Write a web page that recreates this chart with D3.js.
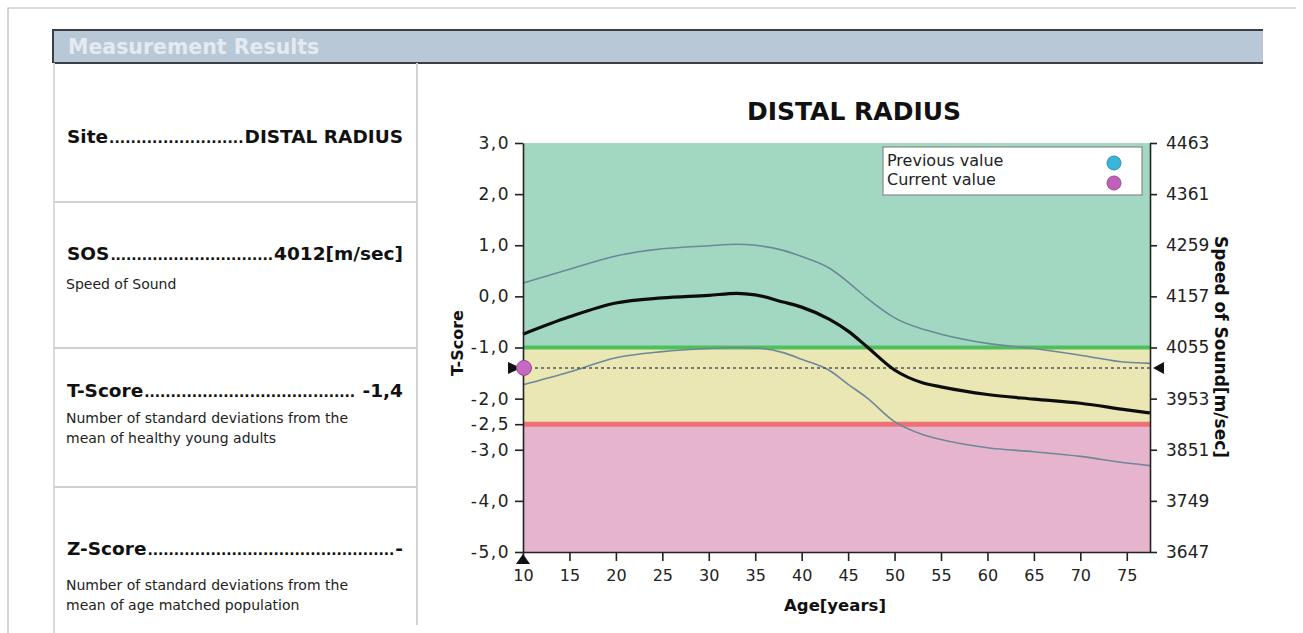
<!DOCTYPE html>
<html>
<head>
<meta charset="utf-8">
<script src="https://cdn.jsdelivr.net/npm/d3@7/dist/d3.min.js"></script>
<style>
  html, body { margin: 0; padding: 0; background: #ffffff; }
  svg { display: block; font-family: "DejaVu Sans", sans-serif; }
</style>
</head>
<body>
<svg id="chart" width="1303" height="633"></svg>
<script>
// ---------------- DATA ----------------
const ages   = [10, 15, 20, 25, 30, 33, 35, 38, 40, 43, 45, 47, 50, 53, 55, 60, 65, 70, 75, 77.5];
const meanT  = [-0.74, -0.40, -0.13, -0.03, 0.02, 0.06, 0.03, -0.11, -0.21, -0.45, -0.68, -0.98, -1.44, -1.69, -1.77, -1.92, -2.01, -2.09, -2.22, -2.28];
const upperT = [0.26, 0.53, 0.79, 0.93, 0.99, 1.02, 1.00, 0.90, 0.78, 0.55, 0.28, -0.03, -0.42, -0.64, -0.74, -0.92, -1.02, -1.15, -1.29, -1.31];
const lowerT = [-1.73, -1.48, -1.20, -1.08, -1.02, -1.00, -1.01, -1.10, -1.23, -1.45, -1.72, -1.98, -2.45, -2.70, -2.80, -2.96, -3.04, -3.13, -3.26, -3.31];

const tDomain = [-5, 3];
const ageDomain = [10, 77.5];
const sosDomain = [3647, 4463];

const leftTicks = [3, 2, 1, 0, -1, -2, -2.5, -3, -4, -5];
const leftTickLabels = ["3,0", "2,0", "1,0", "0,0", "-1,0", "-2,0", "-2,5", "-3,0", "-4,0", "-5,0"];
const sosTicks = [4463, 4361, 4259, 4157, 4055, 3953, 3851, 3749, 3647];
const ageTicks = [10, 15, 20, 25, 30, 35, 40, 45, 50, 55, 60, 65, 70, 75];

const zoneBounds = [3, -1, -2.5, -5];        // green / yellow / pink bands
const thresholdLines = [-1, -2.5];

const currentAge = 10;
const currentT = -1.4;

const legendLabels = ["Previous value", "Current value"];

const panelRows = [
  { label: "Site", value: "DISTAL RADIUS", notes: [] },
  { label: "SOS", value: "4012[m/sec]", notes: ["Speed of Sound"] },
  { label: "T-Score", value: " -1,4", notes: ["Number of standard deviations from the", "mean of healthy young adults"] },
  { label: "Z-Score", value: "-", notes: ["Number of standard deviations from the", "mean of age matched population"] }
];

// ---------------- LAYOUT ----------------
const svg = d3.select("#chart");
const P = { left: 523, right: 1150, top: 143, bottom: 552 };

const x = d3.scaleLinear().domain(ageDomain).range([P.left, P.right]);
const y = d3.scaleLinear().domain(tDomain).range([P.bottom, P.top]);
const ySos = d3.scaleLinear().domain(sosDomain).range([P.bottom, P.top]);

// outer frame
svg.append("path").attr("d", "M8,633 L8,8 L1296,8").attr("fill", "none").attr("stroke", "#b8b8b8").attr("stroke-width", 1.2);

// header bar
svg.append("rect").attr("x", 53).attr("y", 29).attr("width", 1210).attr("height", 34)
  .attr("fill", "#b9c8d7");
svg.append("path").attr("d", "M53,63 L53,30 L1263,30 M53,63 L1263,63")
  .attr("fill", "none").attr("stroke", "#3a3f45").attr("stroke-width", 2);
svg.append("text").attr("x", 68).attr("y", 54).text("Measurement Results")
  .attr("font-weight", "bold").attr("font-size", 20.5).attr("fill", "#e4eaf1");

// left panel borders
svg.append("line").attr("x1", 54).attr("x2", 54).attr("y1", 63).attr("y2", 633).attr("stroke", "#dadada").attr("stroke-width", 2);
svg.append("line").attr("x1", 417).attr("x2", 417).attr("y1", 63).attr("y2", 625).attr("stroke", "#d2d2d2").attr("stroke-width", 2);
[202, 348, 487].forEach(yy => {
  svg.append("line").attr("x1", 54).attr("x2", 417).attr("y1", yy).attr("y2", yy).attr("stroke", "#d0d0d0").attr("stroke-width", 2);
});

// panel rows
const rowBaselines = [143, 260, 397, 555];
const noteBaselines = [[], [289], [423, 443], [590, 610]];
panelRows.forEach((r, i) => {
  const by = rowBaselines[i];
  const lab = svg.append("text").attr("x", 67).attr("y", by).text(r.label)
    .attr("font-weight", "bold").attr("font-size", 18.5).attr("fill", "#111");
  const val = svg.append("text").attr("x", 403).attr("y", by).text(r.value)
    .attr("text-anchor", "end").attr("font-weight", "bold").attr("font-size", 18.5).attr("fill", "#111")
    .attr("xml:space", "preserve").style("white-space", "pre");
  const lw = lab.node().getComputedTextLength();
  const vw = val.node().getComputedTextLength();
  const x0 = 67 + lw + 1, x1 = 403 - vw - 1;
  const gap = x1 - x0;
  const n = Math.max(1, Math.floor(gap / 5.2));
  svg.append("text").attr("x", x0).attr("y", by).text(".".repeat(n))
    .attr("font-weight", "bold").attr("font-size", 14).attr("fill", "#111")
    .attr("textLength", gap).attr("lengthAdjust", "spacing");
  r.notes.forEach((t, j) => {
    svg.append("text").attr("x", 66).attr("y", noteBaselines[i][j]).text(t)
      .attr("font-size", 14).attr("fill", "#222");
  });
});

// ---------------- CHART ----------------
svg.append("text").attr("x", 854).attr("y", 120).text("DISTAL RADIUS")
  .attr("text-anchor", "middle").attr("font-weight", "bold").attr("font-size", 25).attr("fill", "#111");

const zoneColors = ["#a2d8c2", "#ebe7b5", "#e6b5cd"];
for (let i = 0; i < zoneBounds.length - 1; i++) {
  svg.append("rect")
    .attr("x", x(ageDomain[0])).attr("width", x(ageDomain[1]) - x(ageDomain[0]))
    .attr("y", y(zoneBounds[i])).attr("height", y(zoneBounds[i + 1]) - y(zoneBounds[i]))
    .attr("fill", zoneColors[i]);
}
const thrColors = ["#4fbf5c", "#f07078"];
const thrWidths = [4, 5];
thresholdLines.forEach((t, i) => {
  svg.append("line").attr("x1", x(ageDomain[0])).attr("x2", x(ageDomain[1]))
    .attr("y1", y(t)).attr("y2", y(t)).attr("stroke", thrColors[i]).attr("stroke-width", thrWidths[i]);
});

const line = (vals) => d3.line().x((d, i) => x(ages[i])).y(d => y(d)).curve(d3.curveMonotoneX)(vals);
svg.append("path").attr("d", line(upperT)).attr("fill", "none").attr("stroke", "#6d8898").attr("stroke-width", 1.6);
svg.append("path").attr("d", line(lowerT)).attr("fill", "none").attr("stroke", "#6d8898").attr("stroke-width", 1.6);

// current value dashed line
svg.append("line").attr("x1", x(ageDomain[0])).attr("x2", x(ageDomain[1]))
  .attr("y1", y(currentT)).attr("y2", y(currentT))
  .attr("stroke", "#555").attr("stroke-width", 1.4).attr("stroke-dasharray", "3,3");

svg.append("path").attr("d", line(meanT)).attr("fill", "none").attr("stroke", "#0d0d0d").attr("stroke-width", 3.2);

// axes
const axL = svg.append("g").attr("transform", `translate(${P.left},0)`)
  .call(d3.axisLeft(y).tickValues(leftTicks).tickFormat((d, i) => leftTickLabels[i]).tickSize(8).tickPadding(5).tickSizeOuter(0));
axL.selectAll("text").attr("font-size", 17).attr("letter-spacing", 1.5).attr("fill", "#222").attr("font-family", "DejaVu Sans");

const axR = svg.append("g").attr("transform", `translate(${P.right},0)`)
  .call(d3.axisRight(ySos).tickValues(sosTicks).tickFormat(d3.format("d")).tickSize(7).tickPadding(9).tickSizeOuter(0));
axR.selectAll("text").attr("font-size", 17).attr("fill", "#222").attr("font-family", "DejaVu Sans");

const axB = svg.append("g").attr("transform", `translate(0,${P.bottom})`)
  .call(d3.axisBottom(x).tickValues(ageTicks).tickFormat(d3.format("d")).tickSize(9).tickPadding(9).tickSizeOuter(0));
axB.selectAll("text").attr("font-size", 16).attr("fill", "#222").attr("font-family", "DejaVu Sans");

[axL, axR, axB].forEach(a => {
  a.selectAll("path.domain").attr("stroke", "#222").attr("stroke-width", 1.6);
  a.selectAll(".tick line").attr("stroke", "#222").attr("stroke-width", 1.6);
});

// axis titles
svg.append("text").attr("transform", `translate(463,${343}) rotate(-90)`).text("T-Score")
  .attr("text-anchor", "middle").attr("font-weight", "bold").attr("font-size", 16).attr("fill", "#111");
svg.append("text").attr("transform", `translate(1215,${347}) rotate(90)`).text("Speed of Sound[m/sec]")
  .attr("text-anchor", "middle").attr("font-weight", "bold").attr("font-size", 17).attr("fill", "#111");
svg.append("text").attr("x", 835).attr("y", 611).text("Age[years]")
  .attr("text-anchor", "middle").attr("font-weight", "bold").attr("font-size", 16.5).attr("fill", "#111");

// markers
const cy = y(currentT);
const cx = x(currentAge);
svg.append("path").attr("d", `M${cx - 15},${cy - 6} L${cx - 2},${cy} L${cx - 15},${cy + 6} Z`).attr("fill", "#111");
svg.append("circle").attr("cx", cx + 1).attr("cy", cy).attr("r", 7.5).attr("fill", "#c46ac0").attr("stroke", "#9a4a98").attr("stroke-width", 1);
svg.append("path").attr("d", `M${P.right + 3},${cy} L${P.right + 14},${cy - 6} L${P.right + 14},${cy + 6} Z`).attr("fill", "#111");
svg.append("path").attr("d", `M${cx},${P.bottom + 2} L${cx + 7},${P.bottom + 12} L${cx - 7},${P.bottom + 12} Z`).attr("fill", "#111");

// legend
svg.append("rect").attr("x", 883).attr("y", 147).attr("width", 259).attr("height", 48)
  .attr("fill", "#ffffff").attr("stroke", "#8a8a8a").attr("stroke-width", 1.2);
const legColors = ["#38b6d8", "#c060b8"];
legendLabels.forEach((t, i) => {
  svg.append("text").attr("x", 887).attr("y", 166 + i * 19).text(t)
    .attr("font-size", 16).attr("fill", "#222");
  svg.append("circle").attr("cx", 1114).attr("cy", 163 + i * 20).attr("r", 7)
    .attr("fill", legColors[i]).attr("stroke", d3.color(legColors[i]).darker(0.6)).attr("stroke-width", 1);
});
</script>
</body>
</html>
